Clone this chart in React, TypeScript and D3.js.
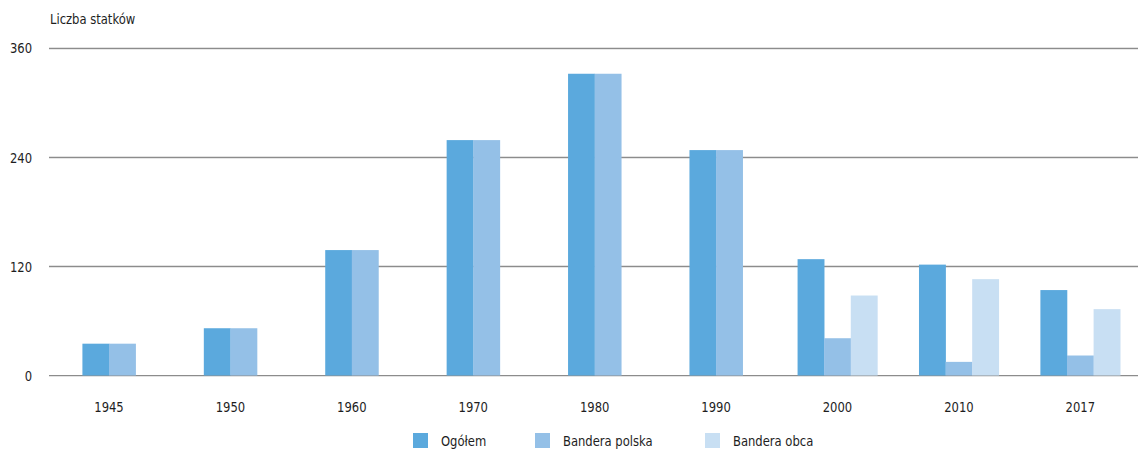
import React from "react";
import * as d3 from "d3";

const years = ["1945", "1950", "1960", "1970", "1980", "1990", "2000", "2010", "2017"];
const ogolem = [35, 52, 138, 259, 332, 248, 128, 122, 94];
const banderaPolska = [35, 52, 138, 259, 332, 248, 41, 15, 22];
const banderaObca: (number | null)[] = [null, null, null, null, null, null, 88, 106, 73];
const yTicks = [0, 120, 240, 360];
const seriesNames = ["Ogółem", "Bandera polska", "Bandera obca"];
const colors = ["#5ba9dd", "#94c0e7", "#c8dff3"];

const W = 1138;
const H = 451;
const FONT = "'Liberation Sans Narrow', 'DejaVu Sans Condensed', 'Roboto Condensed', sans-serif";
const SX = 0.87;

function T({ x, y, anchor = "start", dy, children }: { x: number; y: number; anchor?: string; dy?: string; children: React.ReactNode }) {
  return (
    <g transform={`translate(${x},${y}) scale(${SX},1)`}>
      <text x={0} y={0} dy={dy} textAnchor={anchor as any} fontSize={14.8} fill="#1e1e1e">
        {children}
      </text>
    </g>
  );
}

export default function App() {
  const x = d3.scaleBand<string>().domain(years).range([48.3, 1141]);
  const y = d3.scaleLinear().domain([0, 360]).range([375.5, 48.3]);
  const barW = 26.6;
  const series = [ogolem, banderaPolska, banderaObca];

  const bars: React.ReactNode[] = [];
  years.forEach((yr, i) => {
    const present = series.map((s, k) => ({ k, v: s[i] })).filter((d) => d.v != null);
    const n = present.length;
    const cx = (x(yr) as number) + x.bandwidth() / 2;
    const start = cx - (n * barW) / 2;
    present.forEach((d, j) => {
      const v = d.v as number;
      bars.push(
        <rect
          key={`${yr}-${d.k}`}
          x={start + j * barW}
          y={y(v)}
          width={barW + 0.3}
          height={y(0) - y(v)}
          fill={colors[d.k]}
        />
      );
    });
  });

  const legendX = [413, 535, 705];

  return (
    <div style={{ position: "fixed", left: 0, top: 0 }}>
      <svg width={W} height={H} style={{ display: "block", background: "#fff" }} fontFamily={FONT}>
        <T x={50} y={24}>Liczba statków</T>
        {yTicks.map((t) => (
          <g key={t}>
            <line x1={49} x2={1138} y1={y(t) + 1} y2={y(t) + 1} stroke="#e3e3e3" strokeWidth={1} />
            <line x1={49} x2={1138} y1={y(t)} y2={y(t)} stroke="#8c8c8c" strokeWidth={1.2} />
            <T x={32} y={y(t)} dy="0.35em" anchor="end">{t}</T>
          </g>
        ))}
        {bars}
        {years.map((yr) => (
          <T key={yr} x={(x(yr) as number) + x.bandwidth() / 2} y={412} anchor="middle">
            {yr}
          </T>
        ))}
        {seriesNames.map((nm, k) => (
          <g key={nm}>
            <rect x={legendX[k]} y={433} width={15} height={15} fill={colors[k]} />
            <T x={legendX[k] + 28} y={446}>{nm}</T>
          </g>
        ))}
      </svg>
    </div>
  );
}
